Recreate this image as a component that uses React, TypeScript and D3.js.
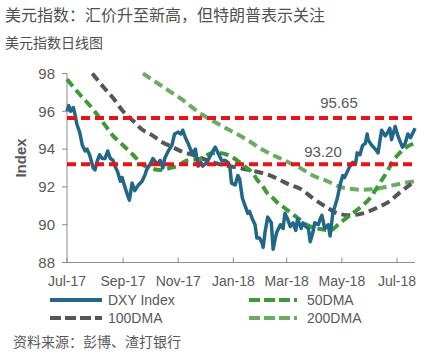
import React from "react";
import * as d3 from "d3";

const START = new Date(2017, 6, 1);

// [day offset from 2017-07-01, value]
const dxy: [number, number][] = [
  [0, 96.0], [2, 96.3], [4, 96.0], [7, 96.2], [9, 95.8], [11, 95.3], [14, 94.9], [17, 94.2],
  [20, 93.9], [22, 94.0], [25, 93.7], [29, 93.0], [31, 92.9], [33, 93.3], [36, 93.7], [39, 93.5],
  [42, 93.5], [45, 93.9], [48, 93.5], [51, 93.4], [53, 93.1], [56, 92.8], [59, 92.3], [61, 92.5],
  [64, 92.0], [66, 91.7], [69, 91.3], [72, 92.2], [75, 91.8], [79, 92.1], [83, 92.3], [86, 92.6],
  [88, 92.9], [92, 93.2], [95, 93.5], [100, 93.2], [103, 93.4], [106, 93.0], [108, 93.5], [112, 93.9],
  [116, 94.2], [119, 94.8], [123, 94.9], [126, 94.8], [128, 95.0], [131, 94.6], [134, 94.3], [138, 93.8],
  [142, 94.0], [145, 93.1], [148, 93.3], [150, 93.1], [155, 93.3], [158, 93.6], [160, 93.8], [164, 94.1],
  [167, 93.8], [171, 93.4], [175, 93.4], [178, 93.3], [180, 93.1], [182, 92.2], [186, 92.1], [189, 92.6],
  [191, 92.4], [194, 91.4], [197, 91.0], [200, 90.6], [202, 90.7], [205, 90.3], [208, 90.0], [210, 89.3],
  [213, 89.3], [216, 89.0], [217, 88.8], [219, 89.6], [222, 90.4], [226, 90.1], [228, 88.7], [230, 89.2],
  [232, 89.6], [236, 90.0], [239, 89.8], [241, 90.6], [244, 90.3], [247, 89.9], [250, 90.1], [253, 89.7],
  [255, 90.3], [259, 89.8], [261, 90.1], [264, 89.9], [267, 89.8], [269, 89.1], [272, 89.6], [274, 90.1],
  [278, 90.0], [280, 90.3], [282, 90.5], [285, 89.8], [289, 90.0], [291, 89.4], [294, 90.6], [299, 91.4],
  [302, 92.1], [305, 92.6], [307, 92.5], [310, 92.8], [313, 93.1], [316, 93.3], [319, 93.2], [321, 93.8],
  [324, 93.7], [327, 94.2], [330, 94.3], [332, 94.8], [333, 94.5], [337, 94.2], [341, 94.0], [344, 93.8],
  [346, 94.4], [348, 95.0], [352, 94.7], [355, 94.9], [357, 95.1], [359, 94.5], [363, 95.2], [366, 94.7],
  [371, 94.1], [374, 94.3], [377, 94.8], [380, 94.6], [383, 94.9], [385, 95.1],
];

const dma50: [number, number][] = [
  [0, 97.7], [14, 96.9], [29, 96.1], [40, 95.4], [51, 94.7], [62, 94.2], [73, 93.7], [83, 93.2],
  [92, 93.0], [103, 92.9], [114, 93.0], [122, 93.1], [133, 93.4], [149, 93.5], [158, 93.75], [169, 93.8],
  [180, 93.65], [191, 93.3], [199, 93.0], [206, 92.7], [210, 92.4], [217, 92.0], [221, 91.7], [228, 91.4],
  [232, 91.2], [239, 90.95], [247, 90.65], [254, 90.4], [265, 90.0], [272, 89.85], [283, 89.75], [291, 89.7],
  [302, 90.1], [313, 90.5], [324, 90.9], [335, 91.4], [346, 92.2], [354, 92.8], [361, 93.4], [368, 93.8],
  [379, 94.2], [385, 94.3],
];

const dma100: [number, number][] = [
  [28, 98.0], [40, 97.3], [51, 96.7], [62, 96.0], [73, 95.5], [84, 95.0], [92, 94.8], [106, 94.35],
  [117, 94.1], [128, 93.85], [139, 93.7], [155, 93.4], [173, 93.15], [191, 93.0], [210, 92.8], [225, 92.6],
  [236, 92.35], [247, 92.1], [258, 91.9], [272, 91.4], [288, 90.9], [299, 90.6], [313, 90.5], [327, 90.6],
  [343, 90.9], [357, 91.25], [368, 91.7], [379, 92.1], [385, 92.3],
];

const dma200: [number, number][] = [
  [84, 98.0], [106, 97.3], [128, 96.6], [147, 95.9], [161, 95.5], [180, 95.0], [199, 94.5], [217, 93.95],
  [236, 93.5], [258, 93.0], [272, 92.6], [288, 92.3], [302, 92.0], [313, 91.9], [327, 91.85], [343, 91.9],
  [357, 92.05], [372, 92.2], [385, 92.3],
];

const levels = [95.65, 93.2];
const levelLabels = ["95.65", "93.20"];
const yTicks = [88, 90, 92, 94, 96, 98];
const xTickDates = [
  new Date(2017, 6, 1), new Date(2017, 8, 1), new Date(2017, 10, 1), new Date(2018, 0, 1),
  new Date(2018, 2, 1), new Date(2018, 4, 1), new Date(2018, 6, 1),
];

const LAT = "'Liberation Sans', Arial, 'Noto Sans CJK SC', sans-serif";
const CJK = "'Noto Sans CJK SC', 'Liberation Sans', sans-serif";
const GRAY = "#595959";

export default function App() {
  const x = d3.scaleTime().domain([START, new Date(2018, 6, 1)]).range([67, 397]);
  const y = d3.scaleLinear().domain([88, 98]).range([262.5, 73.5]);
  const toDate = (d: number) => d3.timeDay.offset(START, d);

  const line = d3
    .line<[number, number]>()
    .x((p) => x(toDate(p[0])))
    .y((p) => y(p[1]));
  const smooth = d3
    .line<[number, number]>()
    .x((p) => x(toDate(p[0])))
    .y((p) => y(p[1]))
    .curve(d3.curveMonotoneX);

  const xEnd = 415;
  const fmt = d3.timeFormat("%b-%y");

  return (
    <svg
      width={432}
      height={358}
      style={{ position: "absolute", left: 0, top: 0, background: "#fff" }}
    >
      <rect width={432} height={358} fill="#fff" />
      <text x={5} y={21} fontFamily={CJK} fontSize={16} fill="#505050">
        美元指数：汇价升至新高，但特朗普表示关注
      </text>
      <text x={5} y={48} fontFamily={CJK} fontSize={14} fill="#505050">
        美元指数日线图
      </text>

      {/* y axis */}
      <line x1={67} x2={67} y1={y(98)} y2={y(88)} stroke="#8c8c8c" strokeWidth={1} />
      {yTicks.map((t) => (
        <g key={t}>
          <line x1={62} x2={67} y1={y(t)} y2={y(t)} stroke="#8c8c8c" />
          <text
            x={55}
            y={y(t)}
            dy="0.35em"
            textAnchor="end"
            fontFamily={LAT}
            fontSize={15}
            fill={GRAY}
          >
            {t}
          </text>
        </g>
      ))}
      <text
        transform={`translate(26,${(y(88) + y(98)) / 2 - 10}) rotate(-90)`}
        textAnchor="middle"
        fontFamily={LAT}
        fontWeight="bold"
        fontSize={15}
        fill={GRAY}
      >
        Index
      </text>

      {/* x axis */}
      <line x1={67} x2={xEnd} y1={y(88)} y2={y(88)} stroke="#8c8c8c" />
      {xTickDates.map((d, i) => (
        <g key={i}>
          <line x1={x(d)} x2={x(d)} y1={y(88)} y2={y(88) - 5} stroke="#8c8c8c" />
          <text
            x={x(d)}
            y={286}
            textAnchor="middle"
            fontFamily={LAT}
            fontSize={14}
            fill={GRAY}
          >
            {fmt(d)}
          </text>
        </g>
      ))}

      {/* moving averages */}
      <path d={smooth(dma200) || ""} fill="none" stroke="#6aad62" strokeWidth={4} strokeDasharray="9,5" />
      <path d={smooth(dma100) || ""} fill="none" stroke="#565656" strokeWidth={4} strokeDasharray="9,5" />
      <path d={smooth(dma50) || ""} fill="none" stroke="#3d9a36" strokeWidth={4} strokeDasharray="9,5" />

      {/* DXY */}
      <path
        d={line(dxy) || ""}
        fill="none"
        stroke="#22678a"
        strokeWidth={3.5}
        strokeLinejoin="round"
      />

      {/* levels */}
      {levels.map((v) => (
        <line
          key={v}
          x1={67}
          x2={xEnd}
          y1={y(v)}
          y2={y(v)}
          stroke="#e8121a"
          strokeWidth={4}
          strokeDasharray="9,5"
        />
      ))}
      <text x={339} y={y(levels[0]) - 10} textAnchor="middle" fontFamily={LAT} fontSize={15} fill={GRAY}>
        {levelLabels[0]}
      </text>
      <text x={323} y={y(levels[1]) - 7} textAnchor="middle" fontFamily={LAT} fontSize={15} fill={GRAY}>
        {levelLabels[1]}
      </text>

      {/* legend */}
      <line x1={50} x2={102} y1={300} y2={300} stroke="#22678a" strokeWidth={4} />
      <text x={108} y={305} fontFamily={LAT} fontSize={14} fill={GRAY}>DXY Index</text>
      <line x1={249} x2={297} y1={300} y2={300} stroke="#3d9a36" strokeWidth={4} strokeDasharray="11,4" />
      <text x={307} y={305} fontFamily={LAT} fontSize={14} fill={GRAY}>50DMA</text>
      <line x1={50} x2={102} y1={318} y2={318} stroke="#565656" strokeWidth={4} strokeDasharray="11,4" />
      <text x={108} y={323} fontFamily={LAT} fontSize={14} fill={GRAY}>100DMA</text>
      <line x1={249} x2={297} y1={318} y2={318} stroke="#6aad62" strokeWidth={4} strokeDasharray="11,4" />
      <text x={307} y={323} fontFamily={LAT} fontSize={14} fill={GRAY}>200DMA</text>

      <text x={13} y={347} fontFamily={CJK} fontSize={14} fill={GRAY}>
        资料来源：彭博、渣打银行
      </text>
    </svg>
  );
}
